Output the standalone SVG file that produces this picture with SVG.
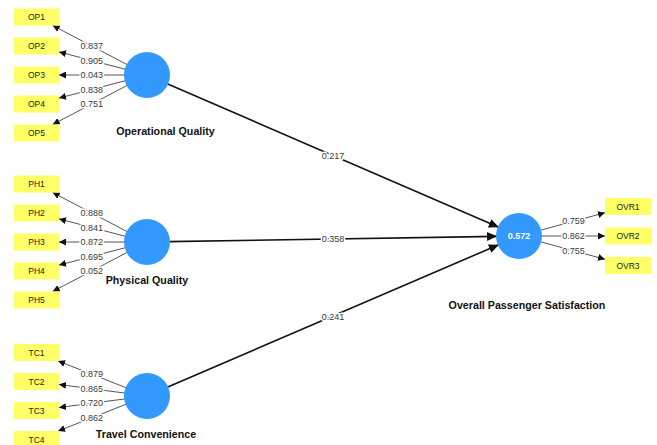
<svg xmlns="http://www.w3.org/2000/svg" width="657" height="445" viewBox="0 0 657 445">
  <style>
    .lv { fill: #3399ff; }
    .ind { fill: #ffff66; }
    .indtxt { font-family: "Liberation Sans", Arial, sans-serif; font-size: 8.5px; fill: #222; text-anchor: middle; }
    .name { font-family: "Liberation Sans", Arial, sans-serif; font-size: 10.7px; font-weight: bold; fill: #111; text-anchor: middle; }
    .load { stroke: #555; stroke-width: 1; fill: none; marker-end: url(#arrS); }
    .path { stroke: #111; stroke-width: 1.6; fill: none; marker-end: url(#arrL); }
    .num { font-family: "Liberation Sans", Arial, sans-serif; font-size: 9px; fill: #3a3a3a; text-anchor: middle; dominant-baseline: central; stroke: #fff; stroke-width: 3; paint-order: stroke; stroke-linejoin: round; }
    .r2 { font-family: "Liberation Sans", Arial, sans-serif; font-size: 9px; font-weight: bold; fill: #fff; text-anchor: middle; dominant-baseline: central; }
  </style>
  <defs>
    <marker id="arrS" markerUnits="userSpaceOnUse" markerWidth="8" markerHeight="7" refX="7" refY="3.5" orient="auto">
      <path d="M0,0 L7,3.5 L0,7 z" fill="#111"/>
    </marker>
    <marker id="arrL" markerUnits="userSpaceOnUse" markerWidth="11" markerHeight="9" refX="10" refY="4.5" orient="auto">
      <path d="M0,0 L10,4.5 L0,9 z" fill="#111"/>
    </marker>
  </defs>
  <rect width="657" height="445" fill="#ffffff"/>

  <!-- connectors: outer loadings and inner path coefficients -->
  <g id="connectors">
    <line class="load" x1="127.5" y1="64.8" x2="52.7" y2="25.5"/>
    <line class="load" x1="125.7" y1="69.4" x2="59" y2="51.9"/>
    <line class="load" x1="125" y1="75" x2="59" y2="75"/>
    <line class="load" x1="125.7" y1="80.6" x2="59" y2="98.1"/>
    <line class="load" x1="127.5" y1="85.2" x2="52.7" y2="124.5"/>

    <line class="load" x1="127.5" y1="231.8" x2="52.7" y2="192.5"/>
    <line class="load" x1="125.7" y1="236.4" x2="59" y2="218.9"/>
    <line class="load" x1="125" y1="242" x2="59" y2="242"/>
    <line class="load" x1="125.7" y1="247.6" x2="59" y2="265.1"/>
    <line class="load" x1="127.5" y1="252.2" x2="52.7" y2="291.5"/>

    <line class="load" x1="126.5" y1="387.9" x2="58.1" y2="361"/>
    <line class="load" x1="125.2" y1="393.1" x2="59" y2="384.5"/>
    <line class="load" x1="125.2" y1="398.9" x2="59" y2="407.5"/>
    <line class="load" x1="126.5" y1="404.1" x2="58.1" y2="431"/>

    <line class="load" x1="540.2" y1="230.3" x2="605" y2="212.7"/>
    <line class="load" x1="541" y1="236" x2="605" y2="236"/>
    <line class="load" x1="540.2" y1="241.7" x2="605" y2="259.3"/>

    <line class="path" x1="167.2" y1="83.7" x2="498.8" y2="227.3"/>
    <line class="path" x1="169" y1="241.6" x2="497" y2="236.35"/>
    <line class="path" x1="167.2" y1="387.3" x2="498.8" y2="244.7"/>

    <text class="num" x="91.75" y="46">0.837</text>
    <text class="num" x="91.75" y="60.5">0.905</text>
    <text class="num" x="91.75" y="75">0.043</text>
    <text class="num" x="91.75" y="89.5">0.838</text>
    <text class="num" x="91.75" y="104">0.751</text>

    <text class="num" x="91.75" y="213">0.888</text>
    <text class="num" x="91.75" y="227.5">0.841</text>
    <text class="num" x="91.75" y="242">0.872</text>
    <text class="num" x="91.75" y="256.5">0.695</text>
    <text class="num" x="91.75" y="271">0.052</text>

    <text class="num" x="91.75" y="374">0.879</text>
    <text class="num" x="91.75" y="389">0.865</text>
    <text class="num" x="91.75" y="403">0.720</text>
    <text class="num" x="91.75" y="418">0.862</text>

    <text class="num" x="573.5" y="221.3">0.759</text>
    <text class="num" x="573.5" y="236">0.862</text>
    <text class="num" x="573.5" y="250.8">0.755</text>

    <text class="num" x="333" y="155.5">0.217</text>
    <text class="num" x="333" y="239">0.358</text>
    <text class="num" x="333" y="316.5">0.241</text>
  </g>

  <!-- Operational Quality -->
  <g id="operational-quality">
    <circle class="lv" cx="147" cy="75" r="23"/>
    <text class="name" x="165.5" y="135">Operational Quality</text>
  </g>
  <g id="OP1"><rect class="ind" x="14" y="8.5" width="45" height="17"/><text class="indtxt" x="36.5" y="20">OP1</text></g>
  <g id="OP2"><rect class="ind" x="14" y="37.5" width="45" height="17"/><text class="indtxt" x="36.5" y="49">OP2</text></g>
  <g id="OP3"><rect class="ind" x="14" y="66.5" width="45" height="17"/><text class="indtxt" x="36.5" y="78">OP3</text></g>
  <g id="OP4"><rect class="ind" x="14" y="95.5" width="45" height="17"/><text class="indtxt" x="36.5" y="107">OP4</text></g>
  <g id="OP5"><rect class="ind" x="14" y="124.5" width="45" height="17"/><text class="indtxt" x="36.5" y="136">OP5</text></g>

  <!-- Physical Quality -->
  <g id="physical-quality">
    <circle class="lv" cx="147" cy="242" r="23"/>
    <text class="name" x="147" y="284">Physical Quality</text>
  </g>
  <g id="PH1"><rect class="ind" x="14" y="175.5" width="45" height="17"/><text class="indtxt" x="36.5" y="187">PH1</text></g>
  <g id="PH2"><rect class="ind" x="14" y="204.5" width="45" height="17"/><text class="indtxt" x="36.5" y="216">PH2</text></g>
  <g id="PH3"><rect class="ind" x="14" y="233.5" width="45" height="17"/><text class="indtxt" x="36.5" y="245">PH3</text></g>
  <g id="PH4"><rect class="ind" x="14" y="262.5" width="45" height="17"/><text class="indtxt" x="36.5" y="274">PH4</text></g>
  <g id="PH5"><rect class="ind" x="14" y="291.5" width="45" height="17"/><text class="indtxt" x="36.5" y="303">PH5</text></g>

  <!-- Travel Convenience -->
  <g id="travel-convenience">
    <circle class="lv" cx="147" cy="396" r="23"/>
    <text class="name" x="146" y="438">Travel Convenience</text>
  </g>
  <g id="TC1"><rect class="ind" x="14" y="344" width="45" height="17"/><text class="indtxt" x="36.5" y="355.5">TC1</text></g>
  <g id="TC2"><rect class="ind" x="14" y="373" width="45" height="17"/><text class="indtxt" x="36.5" y="384.5">TC2</text></g>
  <g id="TC3"><rect class="ind" x="14" y="402" width="45" height="17"/><text class="indtxt" x="36.5" y="413.5">TC3</text></g>
  <g id="TC4"><rect class="ind" x="14" y="431" width="45" height="17"/><text class="indtxt" x="36.5" y="442.5">TC4</text></g>

  <!-- Overall Passenger Satisfaction -->
  <g id="overall-satisfaction">
    <circle class="lv" cx="519" cy="236" r="23"/>
    <text class="r2" x="519" y="236">0.572</text>
    <text class="name" x="527" y="309">Overall Passenger Satisfaction</text>
  </g>
  <g id="OVR1"><rect class="ind" x="605" y="198" width="46" height="17"/><text class="indtxt" x="628" y="209.5">OVR1</text></g>
  <g id="OVR2"><rect class="ind" x="605" y="227.5" width="46" height="17"/><text class="indtxt" x="628" y="239">OVR2</text></g>
  <g id="OVR3"><rect class="ind" x="605" y="257" width="46" height="17"/><text class="indtxt" x="628" y="268.5">OVR3</text></g>
</svg>
